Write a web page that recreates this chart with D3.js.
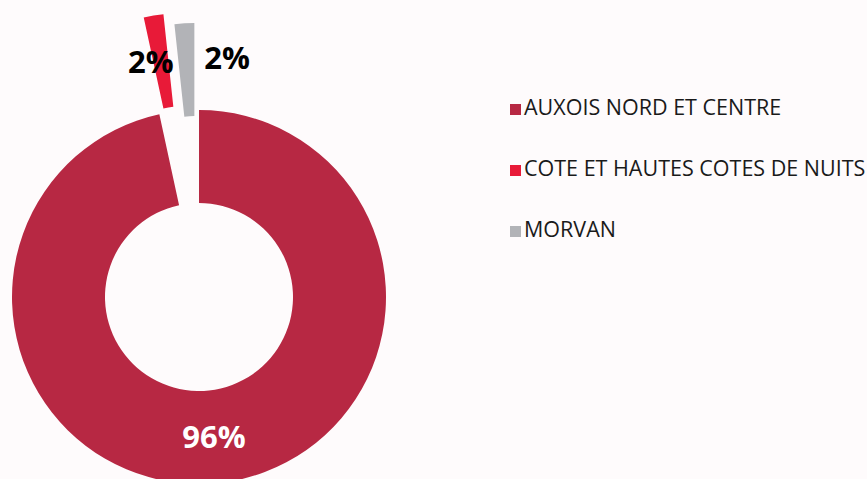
<!DOCTYPE html>
<html>
<head>
<meta charset="utf-8">
<script src="https://cdn.jsdelivr.net/npm/d3@7"></script>
<style>
  body { margin: 0; background: #fefbfc; }
  svg { display: block; }
</style>
</head>
<body>
<div id="chart"></div>
<script>
const categories = ["AUXOIS NORD ET CENTRE", "COTE ET HAUTES COTES DE NUITS", "MORVAN"];
const shares = [96.6, 1.7, 1.7];
const shareLabels = ["96%", "2%", "2%"];
const sliceColors = ["#b72843", "#e81a38", "#b2b3b7"];

const width = 867, height = 479;
const cx = 199, cy = 297;
const outerR = 187, innerR = 94;
// how far each slice is pulled out of the ring
const explode = [0, 98, 87];
// label nudges (px) relative to the default placement
const labelShift = [[0, 0], [13, 2], [18, 0]];

const svg = d3.select("#chart")
    .append("svg")
    .attr("width", width)
    .attr("height", height);

svg.append("rect")
    .attr("width", width)
    .attr("height", height)
    .attr("fill", "#fefbfc");

const pie = d3.pie().sort(null).value(d => d.value);
const arcs = pie(categories.map((c, i) => ({ name: c, value: shares[i], i })));

const arc = d3.arc().innerRadius(innerR).outerRadius(outerR);

function offset(d, r) {
    const a = (d.startAngle + d.endAngle) / 2;
    return [Math.sin(a) * r, -Math.cos(a) * r];
}

const g = svg.append("g").attr("transform", `translate(${cx},${cy})`);

g.selectAll("path")
    .data(arcs)
    .join("path")
    .attr("d", arc)
    .attr("fill", d => sliceColors[d.data.i])
    .attr("transform", d => {
        const [dx, dy] = offset(d, explode[d.data.i]);
        return `translate(${dx},${dy})`;
    });

g.selectAll("text")
    .data(arcs)
    .join("text")
    .attr("transform", d => {
        let p;
        if (d.data.i === 0) {
            p = arc.centroid(d);
        } else {
            p = offset(d, 240);
        }
        return `translate(${p[0] + labelShift[d.data.i][0]},${p[1] + labelShift[d.data.i][1]})`;
    })
    .attr("dy", "0.36em")
    .attr("text-anchor", d => d.data.i === 1 ? "end" : (d.data.i === 2 ? "start" : "middle"))
    .style("font", "bold 31px 'Open Sans', sans-serif")
    .attr("fill", d => d.data.i === 0 ? "#ffffff" : "#000000")
    .text(d => shareLabels[d.data.i]);

const legend = svg.append("g").attr("transform", "translate(510,0)");
const legendY = d3.scalePoint().domain(categories).range([115, 237]);

const item = legend.selectAll("g")
    .data(categories)
    .join("g")
    .attr("transform", d => `translate(0,${legendY(d)})`);

item.append("rect")
    .attr("x", 0)
    .attr("y", -11)
    .attr("width", 11)
    .attr("height", 11)
    .attr("fill", (d, i) => sliceColors[i]);

item.append("text")
    .attr("x", 14)
    .attr("y", 0)
    .style("font", "21.5px 'Open Sans', sans-serif")
    .attr("fill", "#1a1a1a")
    .text(d => d);
</script>
</body>
</html>
